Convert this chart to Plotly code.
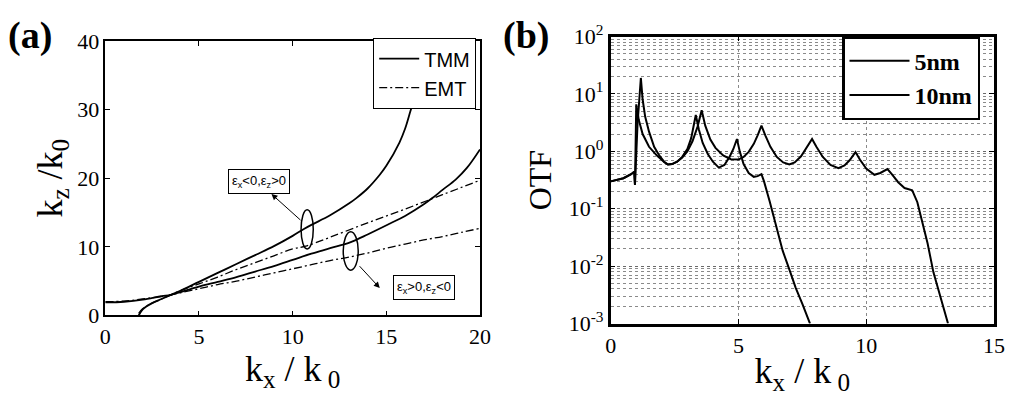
import plotly.graph_objects as go

# ---------------- Panel (a) data ----------------
tmm_upper_kx = [1.78, 2.0, 2.5, 3.0, 3.5, 4.0, 5.0, 6.0, 7.0, 8.0, 9.0, 10.0, 10.6, 11.0, 12.0, 13.0, 13.4, 14.0, 14.65, 15.0, 15.7, 16.0, 16.3, 16.6, 16.9]
tmm_upper_kz = [0.0, 0.9, 1.8, 2.4, 3.0, 3.6, 4.9, 6.2, 7.5, 8.8, 10.1, 11.6, 12.6, 13.2, 14.6, 16.3, 17.1, 18.5, 20.5, 21.8, 25.2, 27.2, 29.9, 32.5, 35.0]

tmm_lower_kx = [0, 1, 2, 3, 3.5, 4, 5, 6, 7, 8, 9, 10, 11, 12, 13.1, 14, 15.2, 16, 17, 17.5, 18, 18.7, 19.3, 20]
tmm_lower_kz = [1.9, 2.0, 2.3, 2.8, 3.0, 3.4, 4.2, 4.9, 5.6, 6.4, 7.2, 8.1, 9.0, 9.8, 10.7, 11.8, 13.4, 14.5, 16.2, 17.2, 18.3, 19.8, 21.5, 24.2]

emt_upper_kx = [1.78, 2.0, 2.5, 3.0, 3.5, 4.0, 5.0, 6.0, 7.0, 8.0, 9.0, 10.0, 10.7, 12.0, 14.0, 16.0, 18.0, 20.0]
emt_upper_kz = [0.3, 1.0, 1.8, 2.4, 3.0, 3.6, 4.6, 5.6, 6.7, 7.7, 8.7, 9.7, 10.1, 11.4, 13.5, 15.5, 17.6, 19.7]

emt_lower_kx = [0, 1, 2, 3, 3.5, 4, 5, 6, 7, 8, 9, 10, 11, 12, 13, 14, 15, 16, 17, 18, 19, 20]
emt_lower_kz = [2.0, 2.1, 2.4, 2.8, 3.0, 3.3, 3.9, 4.5, 5.0, 5.6, 6.2, 6.8, 7.4, 8.0, 8.5, 9.1, 9.8, 10.4, 11.0, 11.5, 12.1, 12.7]

# ---------------- Panel (b) data ----------------
otf5_kx = [0, 0.3, 0.5, 0.8, 0.92, 0.95, 1.0, 1.1, 1.25, 1.5, 1.8, 2.1, 2.24, 2.4, 2.6, 2.8, 3.0, 3.15, 3.33, 3.45, 3.6, 3.8, 4.0, 4.23, 4.45, 4.65, 4.8, 4.94, 5.05, 5.2, 5.4, 5.6, 5.75, 5.9, 6.0, 6.22, 6.5, 6.73, 7.0, 7.24, 7.5, 7.8]
otf5 = [0.3, 0.32, 0.34, 0.4, 0.44, 0.26, 6.6, 3.5, 2.0, 1.2, 0.85, 0.65, 0.59, 0.6, 0.66, 0.8, 1.1, 1.7, 4.3, 2.4, 1.4, 0.9, 0.66, 0.52, 0.58, 0.8, 1.1, 1.64, 1.0, 0.6, 0.42, 0.36, 0.37, 0.4, 0.3, 0.135, 0.045, 0.0186, 0.0085, 0.0042, 0.0022, 0.001]

otf10_kx = [0, 0.3, 0.5, 0.8, 0.92, 0.95, 1.05, 1.18, 1.25, 1.35, 1.5, 1.7, 1.9, 2.1, 2.24, 2.4, 2.6, 2.8, 3.0, 3.2, 3.4, 3.56, 3.7, 3.9, 4.1, 4.4, 4.7, 5.0, 5.2, 5.4, 5.6, 5.75, 5.9, 6.05, 6.25, 6.5, 6.75, 6.99, 7.2, 7.45, 7.65, 7.88, 8.05, 8.3, 8.6, 8.91, 9.15, 9.35, 9.58, 9.75, 10.0, 10.32, 10.55, 10.83, 11.0, 11.25, 11.5, 11.8, 12.0, 12.12, 12.4, 12.63, 12.9, 13.14, 13.2]
otf10 = [0.3, 0.32, 0.34, 0.4, 0.44, 0.26, 3.0, 19.0, 8.0, 4.0, 2.2, 1.2, 0.85, 0.65, 0.59, 0.6, 0.66, 0.78, 1.0, 1.5, 2.7, 5.2, 2.8, 1.6, 1.15, 0.85, 0.73, 0.72, 0.8, 0.98, 1.35, 1.9, 2.8, 1.9, 1.2, 0.8, 0.64, 0.59, 0.64, 0.82, 1.15, 1.64, 1.2, 0.8, 0.58, 0.51, 0.57, 0.7, 0.97, 0.72, 0.5, 0.39, 0.42, 0.49, 0.4, 0.29, 0.23, 0.21, 0.13, 0.081, 0.025, 0.0078, 0.0028, 0.00114, 0.001]

a_xticks = [0, 5, 10, 15, 20]
a_yticks = [0, 10, 20, 30, 40]
b_xticks = [0, 5, 10, 15]
b_yticks = [1e-3, 1e-2, 1e-1, 1e0, 1e1, 1e2]
b_yticktext = ["10<sup>-3</sup>", "10<sup>-2</sup>", "10<sup>-1</sup>", "10<sup>0</sup>", "10<sup>1</sup>", "10<sup>2</sup>"]
b_minor_vals = [m * d for d in [1e-3, 1e-2, 1e-1, 1e0, 1e1] for m in range(2, 10)]

SERIF = "Liberation Serif, Times New Roman, serif"
SANS = "Liberation Sans, Arial, sans-serif"

fig = go.Figure()

fig.add_trace(go.Scatter(x=tmm_upper_kx, y=tmm_upper_kz, mode="lines", name="TMM",
                         line=dict(color="black", width=1.8, shape="spline"), xaxis="x", yaxis="y", legend="legend"))
fig.add_trace(go.Scatter(x=tmm_lower_kx, y=tmm_lower_kz, mode="lines", name="TMM", showlegend=False,
                         line=dict(color="black", width=1.8, shape="spline"), xaxis="x", yaxis="y"))
fig.add_trace(go.Scatter(x=emt_upper_kx, y=emt_upper_kz, mode="lines", name="EMT",
                         line=dict(color="black", width=1.3, dash="8px,3px,2px,3px", shape="spline"), xaxis="x", yaxis="y", legend="legend"))
fig.add_trace(go.Scatter(x=emt_lower_kx, y=emt_lower_kz, mode="lines", name="EMT", showlegend=False,
                         line=dict(color="black", width=1.3, dash="8px,3px,2px,3px", shape="spline"), xaxis="x", yaxis="y"))

fig.add_trace(go.Scatter(x=otf5_kx, y=otf5, mode="lines", name="5nm",
                         line=dict(color="black", width=2.0), xaxis="x2", yaxis="y2", legend="legend2"))
fig.add_trace(go.Scatter(x=otf10_kx, y=otf10, mode="lines", name="10nm",
                         line=dict(color="black", width=2.0), xaxis="x2", yaxis="y2", legend="legend2"))

axis_common = dict(showline=True, linecolor="black", mirror="ticks", ticks="inside", ticklen=5,
                   tickcolor="black", zeroline=False,
                   tickfont=dict(family=SERIF, size=22, color="black"))

fig.update_layout(
    width=1017, height=396,
    margin=dict(l=0, r=0, t=0, b=0),
    paper_bgcolor="white", plot_bgcolor="white",
    xaxis=dict(domain=[0.0993, 0.474], range=[0, 20], tickvals=a_xticks, linewidth=1.5, anchor="y", showgrid=False,
               title=dict(text="k<sub>x</sub> / k<sub> 0</sub>", font=dict(family=SERIF, size=36, color="black"), standoff=2),
               **axis_common),
    yaxis=dict(domain=[0.184, 0.932], range=[0, 40], tickvals=a_yticks, linewidth=1.5, anchor="x", showgrid=False,
               title=dict(text="k<sub>z</sub> /k<sub>0</sub>", font=dict(family=SERIF, size=36, color="black"), standoff=4),
               **axis_common),
    xaxis2=dict(domain=[0.6047, 0.988], range=[0, 15], tickvals=b_xticks, linewidth=2.5, anchor="y2",
                showgrid=True, gridcolor="#8a8a8a", griddash="dot", gridwidth=1,
                title=dict(text="k<sub>x</sub> / k<sub> 0</sub>", font=dict(family=SERIF, size=36, color="black"), standoff=2),
                **axis_common),
    yaxis2=dict(domain=[0.162, 0.944], type="log", range=[-3, 2], tickvals=b_yticks, ticktext=b_yticktext,
                linewidth=2.5, anchor="x2",
                showgrid=True, gridcolor="#6a6a6a", griddash="dot", gridwidth=1,
                title=dict(text="OTF", font=dict(family=SERIF, size=32, color="black"), standoff=8),
                minor=dict(tickmode="array", tickvals=b_minor_vals, showgrid=True, gridcolor="#8a8a8a",
                           griddash="dot", gridwidth=1, ticks=""),
                **axis_common),
    legend=dict(x=0.367, y=0.94, xanchor="left", yanchor="top", bgcolor="white",
                bordercolor="black", borderwidth=1.2, font=dict(family=SANS, size=20, color="black"),
                itemwidth=40, tracegroupgap=0),
    legend2=dict(x=0.836, y=0.945, xanchor="left", yanchor="top", bgcolor="white",
                 bordercolor="black", borderwidth=2.5, font=dict(family=SERIF, size=24, color="black", weight="bold"),
                 itemwidth=60, tracegroupgap=0),
    showlegend=True,
)

# ellipses marking curve pairs in panel (a)
fig.add_shape(type="circle", xref="x", yref="y", x0=10.45, x1=11.1, y0=9.7, y1=15.4,
              line=dict(color="black", width=1.5))
fig.add_shape(type="circle", xref="x", yref="y", x0=12.7, x1=13.5, y0=6.6, y1=12.2,
              line=dict(color="black", width=1.5))

# boxed labels
fig.add_annotation(x=8.23, y=19.55, xref="x", yref="y", showarrow=False,
                   text="ε<sub>x</sub><0,ε<sub>z</sub>>0", font=dict(family=SANS, size=13, color="black"),
                   bordercolor="black", borderwidth=1, borderpad=3, bgcolor="white")
fig.add_annotation(x=17.03, y=4.12, xref="x", yref="y", showarrow=False,
                   text="ε<sub>x</sub>>0,ε<sub>z</sub><0", font=dict(family=SANS, size=13, color="black"),
                   bordercolor="black", borderwidth=1, borderpad=3, bgcolor="white")
# arrows from ellipses to the labels
fig.add_annotation(x=8.87, y=17.7, xref="x", yref="y", ax=10.5, ay=13.7, axref="x", ayref="y",
                   text="", showarrow=True, arrowhead=2, arrowsize=1.2, arrowwidth=1, arrowcolor="black")
fig.add_annotation(x=14.65, y=4.0, xref="x", yref="y", ax=13.5, ay=7.4, axref="x", ayref="y",
                   text="", showarrow=True, arrowhead=2, arrowsize=1.2, arrowwidth=1, arrowcolor="black")

# panel labels
fig.add_annotation(x=0.0, y=1.01, xref="paper", yref="paper", xanchor="left", yanchor="top",
                   text="<b>(a)</b>", showarrow=False, font=dict(family=SERIF, size=38, color="black"))
fig.add_annotation(x=0.495, y=1.01, xref="paper", yref="paper", xanchor="left", yanchor="top",
                   text="<b>(b)</b>", showarrow=False, font=dict(family=SERIF, size=38, color="black"))

fig.write_html("out.html")
